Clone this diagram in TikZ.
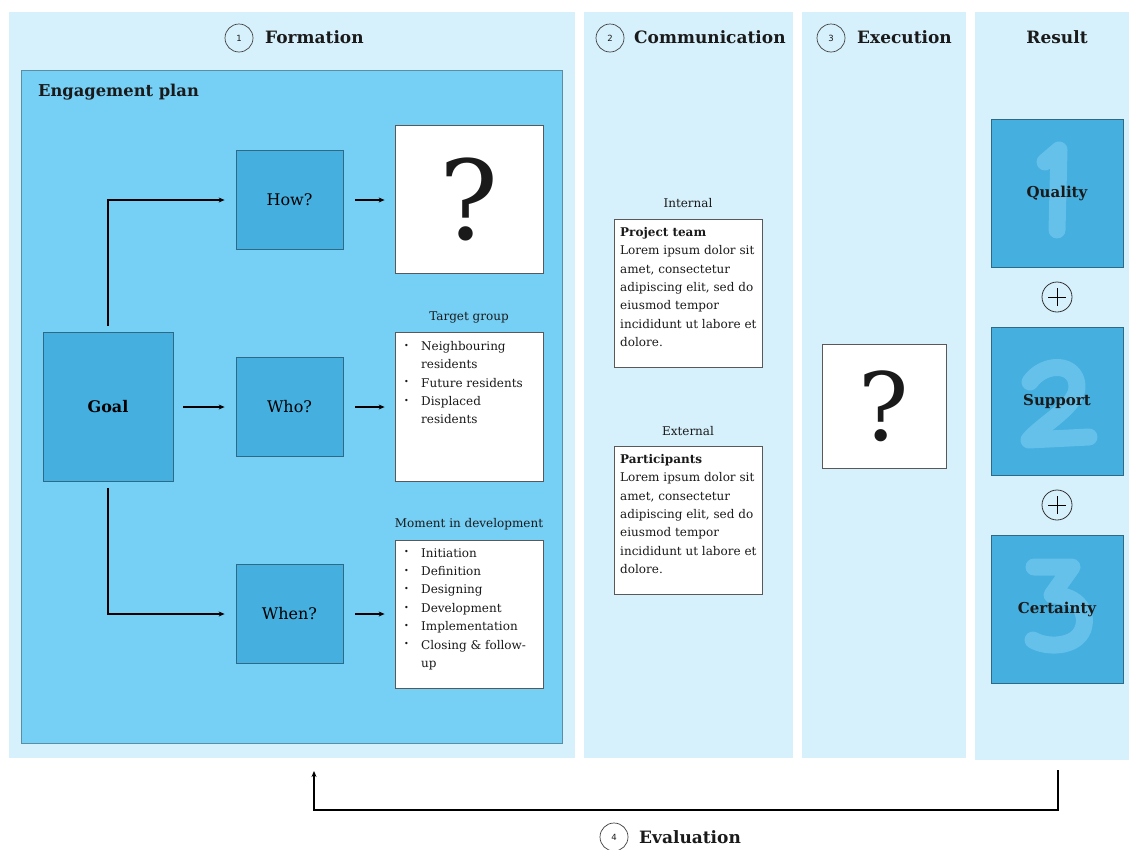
\documentclass[tikz,border=0pt]{standalone}
\usepackage{fontspec}
\setmainfont{DejaVu Serif}
\newfontfamily\numfont{DejaVu Sans}
\usetikzlibrary{arrows.meta}

\definecolor{panelblue}{HTML}{D6F1FC}
\definecolor{planblue}{HTML}{76CFF5}
\definecolor{boxblue}{HTML}{45AFDF}
\definecolor{digitblue}{HTML}{66C1EA}
\definecolor{boxedge}{HTML}{2E6A86}
\definecolor{planedge}{HTML}{5C8EA3}
\definecolor{inkdark}{HTML}{1A1A1A}

% bullet and hanging indent for the small lists
\newcommand{\lbul}{\makebox[17pt][l]{\raisebox{2.2pt}{\fontsize{8}{8}\selectfont\textbullet}}}
\newcommand{\lind}{\hspace*{17pt}}

\begin{document}
\begin{tikzpicture}[x=1pt,y=-1pt,
  panel/.style={fill=panelblue, draw=none, inner sep=0, minimum width=#1},
  darkbox/.style={fill=boxblue, draw=boxedge, line width=0.8pt, inner sep=0},
  whitebox/.style={fill=white, draw=black!65, line width=0.8pt, inner sep=0},
  header/.style={font=\fontsize{17}{17}\selectfont\bfseries, text=inkdark, inner sep=0},
  numcircle/.style={circle, draw=black!75, line width=0.7pt, minimum size=28, inner sep=0,
    font=\numfont\fontsize{8.5}{8.5}\selectfont, text=inkdark},
  boxlabel/.style={font=\fontsize{16}{16}\selectfont, text=inkdark, inner sep=0},
  small/.style={font=\fontsize{12}{18.4}\selectfont, text=inkdark, inner sep=0, align=left},
  arr/.style={-{Stealth[length=6pt,width=5pt]}, line width=1.1pt, black},
  digit/.style={draw=digitblue, line width=17pt, line cap=round, line join=round}
]
\useasboundingbox (0,0) rectangle (1129,849);
\fill[white] (0,0) rectangle (1129,849);

% ---- column panels ----
\node[panel=566, minimum height=746] (formpanel) at (292,385) {};
\node[panel=209, minimum height=746] (commpanel) at (688.5,385) {};
\node[panel=164, minimum height=746] (execpanel) at (884,385) {};
\node[panel=154, minimum height=748] (respanel) at (1052,386) {};

% ---- headers ----
\node[numcircle] (n1) at (239,38) {1};
\node[header, anchor=west] (h1) at (265,37) {Formation};
\node[numcircle] (n2) at (610,38) {2};
\node[header, anchor=west] (h2) at (634,37) {Communication};
\node[numcircle] (n3) at (831,38) {3};
\node[header, anchor=west] (h3) at (857,37) {Execution};
\node[header] (h4) at (1057,37) {Result};

% ---- engagement plan ----
\node[fill=planblue, draw=planedge, line width=0.8pt, inner sep=0,
      minimum width=541, minimum height=673] (plan) at (291.5,406.5) {};
\node[font=\fontsize{16.3}{16.3}\selectfont\bfseries, text=inkdark, anchor=west, inner sep=0]
  (plantitle) at (38,92) {Engagement plan};

\node[darkbox, minimum width=130, minimum height=149] (goal) at (108,407)
  {\fontsize{16}{16}\selectfont\bfseries Goal};
\node[darkbox, minimum width=107, minimum height=99] (how) at (289.5,200)
  {\fontsize{16}{16}\selectfont How?};
\node[darkbox, minimum width=107, minimum height=99] (who) at (289.5,407)
  {\fontsize{16}{16}\selectfont Who?};
\node[darkbox, minimum width=107, minimum height=99] (when) at (289.5,614)
  {\fontsize{16}{16}\selectfont When?};

\node[whitebox, minimum width=148, minimum height=148] (qbox) at (469,199) {};
\node[inner sep=0, font=\fontsize{110}{110}\selectfont, text=inkdark] (qmark) at (qbox) {?};

\node[small, anchor=base] (tglabel) at (469,320) {Target group};
\node[whitebox, minimum width=148, minimum height=149] (tbox) at (469,406.5) {};
\node[small, anchor=north west] (tlist) at (404,341)
  {\lbul Neighbouring\\ \lind residents\\ \lbul Future residents\\ \lbul Displaced\\ \lind residents};

\node[small, anchor=base] (mdlabel) at (469,527) {Moment in development};
\node[whitebox, minimum width=148, minimum height=148] (mbox) at (469,614) {};
\node[small, anchor=north west] (mlist) at (404,548)
  {\lbul Initiation\\ \lbul Definition\\ \lbul Designing\\ \lbul Development\\
   \lbul Implementation\\ \lbul Closing \& follow-\\ \lind up};

% connectors inside the plan
\draw[arr, shorten <=6pt, shorten >=11pt] (goal.north) |- (how.west);
\draw[arr, shorten <=10pt, shorten >=11pt] (goal.east) -- (who.west);
\draw[arr, shorten <=6pt, shorten >=11pt] (goal.south) |- (when.west);
\draw[arr, shorten <=12pt, shorten >=10pt] (how.east) -- (how.east -| qbox.west);
\draw[arr, shorten <=12pt, shorten >=10pt] (who.east) -- (who.east -| tbox.west);
\draw[arr, shorten <=12pt, shorten >=10pt] (when.east) -- (when.east -| mbox.west);

% ---- communication ----
\node[small, anchor=base] (intlabel) at (688,207) {Internal};
\node[whitebox, minimum width=148, minimum height=148] (ptbox) at (688,293) {};
\node[small, anchor=north west] (pttext) at (620,227)
  {\textbf{Project team}\\ Lorem ipsum dolor sit\\ amet, consectetur\\ adipiscing elit, sed do\\
   eiusmod tempor\\ incididunt ut labore et\\ dolore.};

\node[small, anchor=base] (extlabel) at (688,435) {External};
\node[whitebox, minimum width=148, minimum height=148] (pabox) at (688,520) {};
\node[small, anchor=north west] (patext) at (620,454)
  {\textbf{Participants}\\ Lorem ipsum dolor sit\\ amet, consectetur\\ adipiscing elit, sed do\\
   eiusmod tempor\\ incididunt ut labore et\\ dolore.};

% ---- execution ----
\node[whitebox, minimum width=124, minimum height=124] (exbox) at (884,406) {};
\node[inner sep=0, font=\fontsize{94}{94}\selectfont, text=inkdark] (exq) at (exbox) {?};

% ---- result ----
\node[darkbox, minimum width=132, minimum height=148] (quality) at (1057,193) {};
\node[darkbox, minimum width=132, minimum height=148] (support) at (1057,401) {};
\node[darkbox, minimum width=132, minimum height=148] (certainty) at (1057,609) {};

% faint hand-drawn numerals behind the result labels
\draw[digit] (1045,162) -- (1059,150) -- (1057,230);
\draw[digit] (1030,382) .. controls (1044,362) and (1076,362) .. (1077,386)
  .. controls (1078,406) and (1042,424) .. (1029,440) -- (1089,437);
\draw[digit] (1034,567) -- (1072,567) -- (1052,595)
  .. controls (1080,595) and (1088,614) .. (1083,629)
  .. controls (1076,648) and (1046,648) .. (1033,640);

\node[boxlabel, font=\fontsize{15}{15}\selectfont\bfseries] (qualtext) at (quality) {Quality};
\node[boxlabel, font=\fontsize{15}{15}\selectfont\bfseries] (supptext) at (support) {Support};
\node[boxlabel, font=\fontsize{15}{15}\selectfont\bfseries] (certtext) at (certainty) {Certainty};

\node[circle, draw=black!80, line width=0.8pt, minimum size=30, inner sep=0] (plus1) at (1057,297) {};
\draw[line width=0.9pt] ([xshift=-9pt]plus1.center) -- ([xshift=9pt]plus1.center)
  ([yshift=-9pt]plus1.center) -- ([yshift=9pt]plus1.center);
\node[circle, draw=black!80, line width=0.8pt, minimum size=30, inner sep=0] (plus2) at (1057,505) {};
\draw[line width=0.9pt] ([xshift=-9pt]plus2.center) -- ([xshift=9pt]plus2.center)
  ([yshift=-9pt]plus2.center) -- ([yshift=9pt]plus2.center);

% ---- evaluation loop ----
\coordinate (evalfrom) at (1058,770);
\coordinate (evalbend) at (314,810);
\coordinate (evalto) at (314,771);
\draw[arr, line width=1.6pt] (evalfrom) |- (evalbend) -- (evalto);
\node[numcircle] (n4) at (614,837) {4};
\node[header, anchor=west] (h5) at (639,837) {Evaluation};
\end{tikzpicture}
\end{document}
